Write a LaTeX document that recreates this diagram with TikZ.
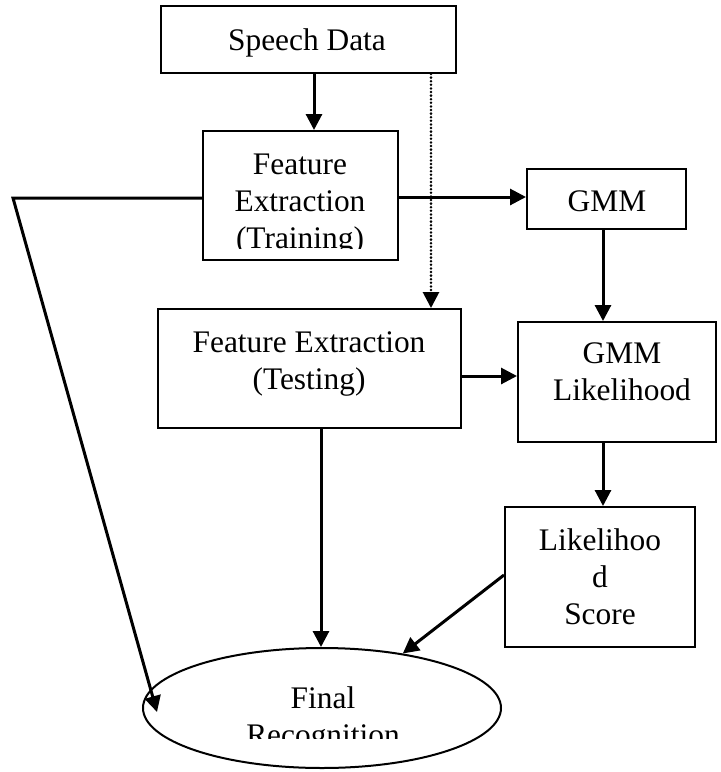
\documentclass[tikz,border=0pt]{standalone}
\usepackage{fontspec}
\setmainfont{Liberation Serif}
\usetikzlibrary{arrows.meta,calc,shapes.geometric}
\tikzset{
  blockbox/.style={draw,line width=1pt,inner sep=0pt},
  blocktext/.style={align=center,inner sep=0pt,anchor=base,font=\fontsize{15.7}{18.5}\selectfont},
  flowarrow/.style={line width=1.5pt,-{Triangle[length=8pt,width=8pt]}},
  dotarrow/.style={line width=1.4pt,line cap=round,dash pattern=on 0pt off 1.8pt,-{Triangle[length=8pt,width=8pt]}},
}

\begin{document}
\begin{tikzpicture}[x=0.5pt,y=-0.5pt]
\useasboundingbox (0,0) rectangle (720,772);

\node[blockbox,minimum width=147.5pt,minimum height=33.5pt] (sd) at (308.5,39.5) {};
\node[blockbox,minimum width=97.5pt,minimum height=64.5pt] (tr) at (300.5,195.5) {};
\node[blockbox,minimum width=79.5pt,minimum height=30pt] (gmm) at (606.5,199) {};
\node[blockbox,minimum width=151.5pt,minimum height=59.5pt] (te) at (309.5,368.5) {};
\node[blockbox,minimum width=99pt,minimum height=60pt] (gl) at (617,382) {};
\node[blockbox,minimum width=95pt,minimum height=70pt] (sc) at (600,577) {};
\node[blockbox,ellipse,minimum width=179pt,minimum height=60pt] (fr) at (322,708) {};

\node[blocktext] (sdt) at (307,50) {Speech Data};
\begin{scope}
\clip (203,131) rectangle (398,248);
\node[blocktext] (trt) at (300,248) {Feature\\Extraction\\(Training)};
\end{scope}
\node[blocktext] (gmmt) at (607,211) {GMM};
\node[blocktext] (tet) at (309,389) {Feature Extraction\\(Testing)};
\node[blocktext] (glt) at (622,400) {GMM\\Likelihood};
\node[blocktext] (sct) at (600,624) {Likelihoo\\d\\Score};
\begin{scope}
\clip (143,649) rectangle (501,738);
\node[blocktext] (frt) at (323,745) {Final\\Recognition};
\end{scope}

\coordinate (lc) at (13,198);

\draw[flowarrow] ([xshift=2.75pt]sd.south) -- ([xshift=2.75pt]sd.south |- tr.north);
\draw[dotarrow] ([xshift=61.25pt]sd.south) -- ([xshift=61.25pt]sd.south |- te.north);
\draw[flowarrow] ([yshift=-0.75pt]tr.east) -- ([yshift=-0.75pt]tr.east -| gmm.west);
\draw[flowarrow] ([yshift=-1.25pt]tr.west) -- (lc) -- ([xshift=7.5pt,yshift=-2pt]fr.west);
\draw[flowarrow] ([xshift=-1.75pt]gmm.south) -- ([xshift=-1.75pt]gmm.south |- gl.north);
\draw[flowarrow] ([yshift=-3.75pt]te.east) -- ([yshift=-3.75pt]te.east -| gl.west);
\draw[flowarrow] ([xshift=-7pt]gl.south) -- ([xshift=-7pt]gl.south |- sc.north);
\draw[flowarrow] ([xshift=5.75pt]te.south) -- ([xshift=5.75pt]te.south |- fr.north);
\draw[flowarrow] ([yshift=1pt]sc.west) -- (fr.34);

\end{tikzpicture}
\end{document}
